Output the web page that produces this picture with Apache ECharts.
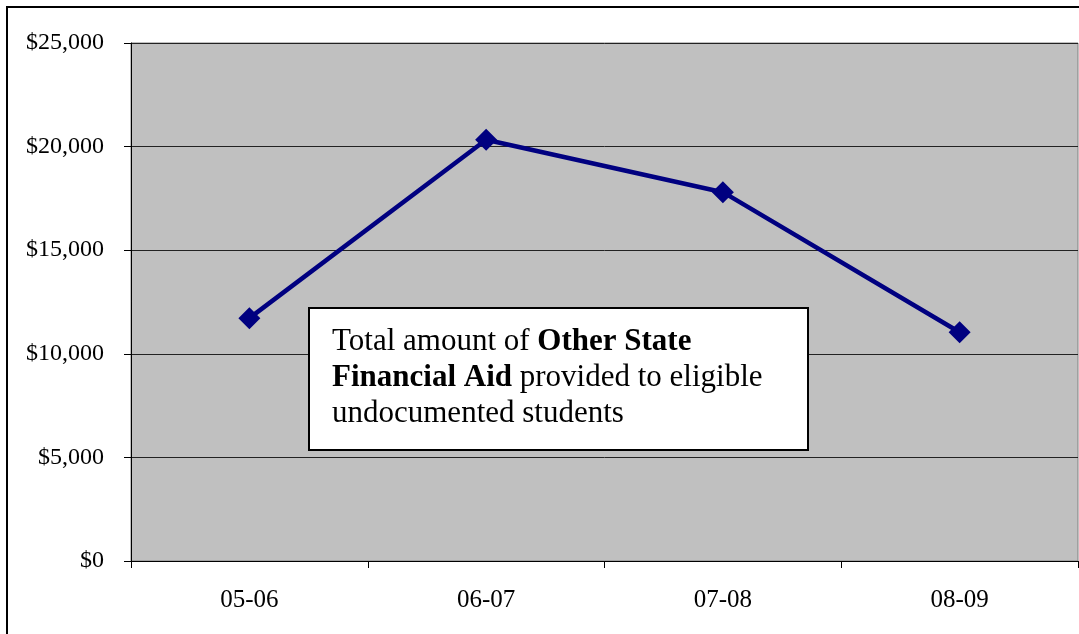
<!DOCTYPE html>
<html>
<head>
<meta charset="utf-8">
<script src="https://cdn.jsdelivr.net/npm/echarts@6/dist/echarts.min.js"></script>
<style>
html,body{margin:0;padding:0;background:#fff;}
#chart{width:1079px;height:634px;}
</style>
</head>
<body>
<div id="chart"></div>
<script>
const categories = ['05-06', '06-07', '07-08', '08-09'];
const amounts = [11720, 20330, 17800, 11040];
const yTicks = [0, 5000, 10000, 15000, 20000, 25000];

const FONT = "'Liberation Serif', 'Times New Roman', serif";
const chart = echarts.init(document.getElementById('chart'));
chart.setOption({
  animation: false,
  backgroundColor: '#fff',
  grid: {
    left: 131, top: 43, right: 1, bottom: 73,
    show: true, backgroundColor: '#C0C0C0', borderColor: '#808080', borderWidth: 1
  },
  xAxis: {
    type: 'category',
    data: categories,
    boundaryGap: true,
    axisLine: { lineStyle: { color: '#000', width: 1 } },
    axisTick: { show: true, length: 7, lineStyle: { color: '#000' } },
    axisLabel: { fontFamily: FONT, fontSize: 25, color: '#000', margin: 27 }
  },
  yAxis: {
    type: 'value',
    min: yTicks[0],
    max: yTicks[yTicks.length - 1],
    interval: yTicks[1] - yTicks[0],
    axisLine: { show: true, lineStyle: { color: '#000', width: 1 } },
    axisTick: { show: true, length: 7, lineStyle: { color: '#000' } },
    splitLine: { show: true, lineStyle: { color: '#222', width: 1 } },
    axisLabel: {
      fontFamily: FONT, fontSize: 24, color: '#000', margin: 27,
      formatter: v => '$' + String(v).replace(/\B(?=(\d{3})+(?!\d))/g, ',')
    }
  },
  title: {
    left: 309, top: 308,
    backgroundColor: '#fff',
    borderColor: '#000',
    borderWidth: 2,
    padding: [16, 46, 18, 23],
    text: 'Total amount of {b|Other State}\n{b|Financial Aid} provided to eligible\nundocumented students',
    textStyle: {
      fontFamily: FONT, fontSize: 31, fontWeight: 'normal', color: '#000', lineHeight: 36,
      rich: {
        b: { fontFamily: FONT, fontSize: 31, fontWeight: 'bold', color: '#000', lineHeight: 36 }
      }
    }
  },
  graphic: [{
    type: 'rect',
    z: 100,
    shape: { x: 7, y: 7, width: 1200, height: 800 },
    style: { fill: 'none', stroke: '#000', lineWidth: 2 },
    silent: true
  }],
  series: [{
    type: 'line',
    data: amounts,
    lineStyle: { color: '#000080', width: 4.5 },
    itemStyle: { color: '#000080' },
    symbol: 'diamond',
    symbolSize: 22,
    z: 3
  }]
});
</script>
</body>
</html>
